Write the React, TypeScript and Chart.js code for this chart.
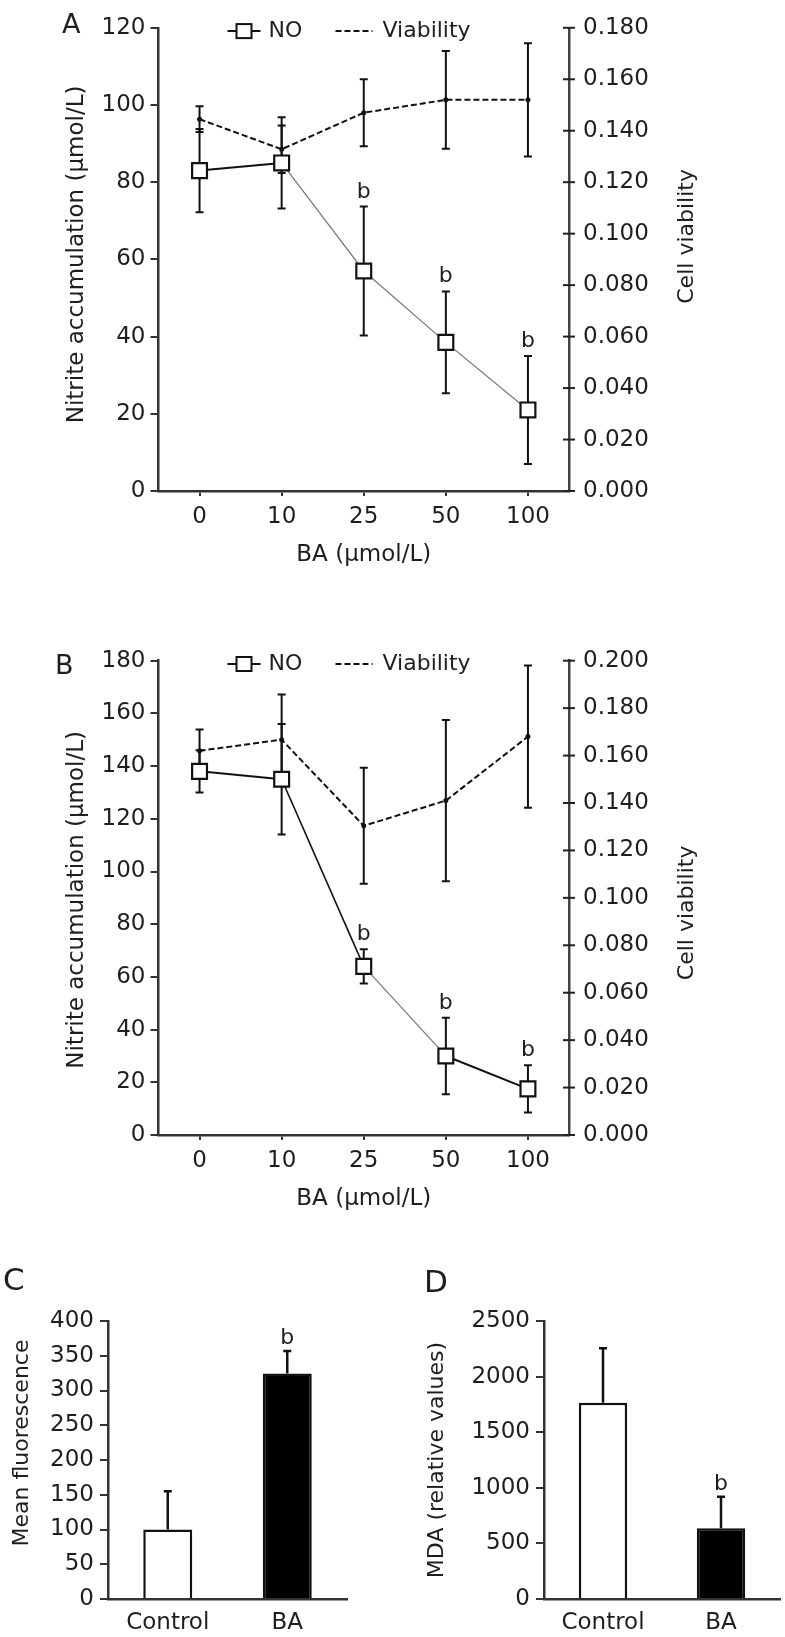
import React, { useEffect, useRef } from 'react';
import { Chart, registerables } from 'chart.js';

Chart.register(...registerables);
Chart.defaults.font.family = '"DejaVu Sans", "Noto Sans", sans-serif';
Chart.defaults.color = '#222';

// ---------- DATA ----------
const doseLabels = ['0', '10', '25', '50', '100'];

const aNO = [83, 85, 57, 38.5, 21];
const aNOErr = [10.8, 11.8, 16.7, 13.2, 14];
const aViab = [0.1445, 0.1328, 0.147, 0.152, 0.152];
const aViabErr = [0.005, 0.0092, 0.013, 0.019, 0.022];
const aSig = ['', '', 'b', 'b', 'b'];

const bNO = [138, 135, 64, 30, 17.5];
const bNOErr = [8, 21, 6.5, 14.5, 9];
const bViab = [0.162, 0.1667, 0.1304, 0.141, 0.168];
const bViabErr = [0.009, 0.019, 0.0245, 0.034, 0.03];
const bSig = ['', '', 'b', 'b', 'b'];

const groupLabels = ['Control', 'BA'];
const cVals = [100, 324.5];
const cErr = [55, 32.5];
const cSig = ['', 'b'];
const dVals = [1765, 636];
const dErr = [489, 284];
const dSig = ['', 'b'];

// segment styles (per segment of the NO line)
const aSegColor = ['#111', '#777', '#777', '#777'];
const aSegWidth = [2, 1.2, 1.2, 1.2];
const bSegColor = ['#111', '#111', '#777', '#111'];
const bSegWidth = [2, 1.6, 1.2, 2];

const FONT = '"DejaVu Sans", "Noto Sans", sans-serif';
const TXT = '#1e1e1e';

// ---------- PLUGINS ----------
const errorBarPlugin = {
  id: 'errorBars',
  beforeDatasetsDraw(chart: any) {
    const { ctx } = chart;
    chart.data.datasets.forEach((ds: any, di: number) => {
      const errs = ds.errors;
      if (!errs) return;
      const meta = chart.getDatasetMeta(di);
      const ys = chart.scales[meta.yAxisID];
      const xs = chart.scales[meta.xAxisID];
      ctx.save();
      ctx.strokeStyle = '#111';
      ctx.lineWidth = ds.errWidth || 2;
      ctx.setLineDash([]);
      ds.data.forEach((v: number, i: number) => {
        const x = xs.getPixelForValue(i);
        const yTop = ys.getPixelForValue(v + errs[i]);
        const yBot = ds.errUpOnly ? ys.getPixelForValue(v) : ys.getPixelForValue(v - errs[i]);
        const cap = ds.errCap || 4;
        ctx.beginPath();
        ctx.moveTo(x, yBot);
        ctx.lineTo(x, yTop);
        ctx.moveTo(x - cap, yTop);
        ctx.lineTo(x + cap, yTop);
        if (!ds.errUpOnly) {
          ctx.moveTo(x - cap, yBot);
          ctx.lineTo(x + cap, yBot);
        }
        ctx.stroke();
      });
      ctx.restore();
    });
  },
  afterDatasetsDraw(chart: any) {
    const { ctx } = chart;
    chart.data.datasets.forEach((ds: any, di: number) => {
      if (!ds.sig) return;
      const meta = chart.getDatasetMeta(di);
      const ys = chart.scales[meta.yAxisID];
      const xs = chart.scales[meta.xAxisID];
      ctx.save();
      ctx.fillStyle = TXT;
      ctx.font = `22px ${FONT}`;
      ctx.textAlign = 'center';
      ctx.textBaseline = 'alphabetic';
      ds.data.forEach((v: number, i: number) => {
        if (!ds.sig[i]) return;
        const x = xs.getPixelForValue(i);
        const y = ys.getPixelForValue(v + (ds.errors ? ds.errors[i] : 0));
        ctx.fillText(ds.sig[i], x, y - (ds.sigGap || 9));
      });
      ctx.restore();
    });
  },
};

const vTitlePlugin = {
  id: 'vTitles',
  afterDraw(chart: any, _args: any, opts: any) {
    const items = (opts && opts.items) || [];
    const { ctx, chartArea } = chart;
    const cy = (chartArea.top + chartArea.bottom) / 2;
    items.forEach((it: any) => {
      ctx.save();
      ctx.translate(it.x, cy + it.dy);
      ctx.rotate(-Math.PI / 2);
      ctx.font = `${it.size}px ${FONT}`;
      ctx.fillStyle = TXT;
      ctx.textAlign = 'center';
      ctx.textBaseline = 'middle';
      ctx.fillText(it.text, 0, 0);
      ctx.restore();
    });
  },
};

const crossTickPlugin = {
  id: 'crossTicks',
  afterDraw(chart: any, _args: any, opts: any) {
    if (!opts || !opts.scaleId) return;
    const s = chart.scales[opts.scaleId];
    const { ctx } = chart;
    ctx.save();
    ctx.strokeStyle = '#222';
    ctx.lineWidth = 2;
    s.ticks.forEach((t: any) => {
      const y = s.getPixelForValue(t.value);
      ctx.beginPath();
      ctx.moveTo(s.left - 6, y);
      ctx.lineTo(s.left + 6, y);
      ctx.stroke();
    });
    ctx.restore();
  },
};

const legendPlugin = {
  id: 'panelLegend',
  afterDraw(chart: any, _args: any, opts: any) {
    if (!opts || !opts.show) return;
    const { ctx, chartArea } = chart;
    const y = chartArea.top + 3.3;
    const x0 = chartArea.left;
    const dsNO = chart.data.datasets[0];
    const dsV = chart.data.datasets[1];
    ctx.save();
    ctx.strokeStyle = '#111';
    ctx.lineWidth = 2;
    ctx.beginPath();
    ctx.moveTo(x0 + 69, y);
    ctx.lineTo(x0 + 102, y);
    ctx.stroke();
    ctx.fillStyle = '#fff';
    ctx.fillRect(x0 + 78, y - 7, 15, 14);
    ctx.strokeRect(x0 + 78, y - 7, 15, 14);
    ctx.font = `22px ${FONT}`;
    ctx.fillStyle = TXT;
    ctx.textAlign = 'left';
    ctx.textBaseline = 'middle';
    ctx.fillText(dsNO.label, x0 + 110, y);
    ctx.setLineDash([6, 3]);
    ctx.beginPath();
    ctx.moveTo(x0 + 177, y);
    ctx.lineTo(x0 + 214, y);
    ctx.stroke();
    ctx.setLineDash([]);
    ctx.fillText(dsV.label, x0 + 224, y);
    ctx.restore();
  },
};

// ---------- CONFIG BUILDERS ----------
function lineConfig(p: {
  no: number[]; noErr: number[]; viab: number[]; viabErr: number[]; sig: string[];
  segColor: string[]; segWidth: number[]; yMax: number; y1Max: number;
  padTop: number; padBottom: number; leftDy: number; rightDy: number;
}) {
  return {
    type: 'line',
    data: {
      labels: doseLabels,
      datasets: [
        {
          label: 'NO',
          data: p.no,
          errors: p.noErr,
          sig: p.sig,
          sigGap: 9,
          errWidth: 2,
          errCap: 4,
          yAxisID: 'y',
          borderColor: '#111',
          borderWidth: 2,
          tension: 0,
          pointStyle: 'rect',
          pointRadius: 10.5,
          pointBorderWidth: 2.2,
          pointBackgroundColor: '#fff',
          pointBorderColor: '#111',
          segment: {
            borderColor: (c: any) => p.segColor[c.p0DataIndex],
            borderWidth: (c: any) => p.segWidth[c.p0DataIndex],
          },
        },
        {
          label: 'Viability',
          data: p.viab,
          errors: p.viabErr,
          errWidth: 2,
          errCap: 4,
          yAxisID: 'y1',
          borderColor: '#111',
          borderWidth: 2,
          borderDash: [6, 3],
          tension: 0,
          pointStyle: 'circle',
          pointRadius: 2.5,
          pointBorderWidth: 0,
          pointBackgroundColor: '#111',
        },
      ],
    },
    options: {
      responsive: false,
      animation: false,
      events: [],
      layout: { padding: { left: 0, right: 0, top: p.padTop, bottom: p.padBottom } },
      plugins: {
        legend: { display: false },
        tooltip: { enabled: false },
        panelLegend: { show: true },
        crossTicks: { scaleId: 'y1' },
        vTitles: {
          items: [
            { text: 'Nitrite accumulation (μmol/L)', x: 77, dy: p.leftDy, size: 23 },
            { text: 'Cell viability', x: 687, dy: p.rightDy, size: 22 },
          ],
        },
      },
      scales: {
        x: {
          type: 'category',
          offset: true,
          grid: { display: true, drawOnChartArea: false, drawTicks: true, tickLength: 5, color: '#333', lineWidth: 2, offset: false },
          border: { display: true, color: '#333', width: 2.5 },
          ticks: { font: { size: 23 }, padding: 7, color: TXT },
          title: { display: true, text: 'BA (μmol/L)', font: { size: 23 }, padding: 0, color: TXT },
          afterFit: (s: any) => { s.height = 78; },
        },
        y: {
          position: 'left',
          min: 0,
          max: p.yMax,
          grid: { display: true, drawOnChartArea: false, drawTicks: true, tickLength: 8, color: '#333', lineWidth: 2 },
          border: { display: true, color: '#333', width: 2.5 },
          ticks: { stepSize: 20, font: { size: 23 }, padding: 5, color: TXT },
          afterFit: (s: any) => { s.width = 158.5; },
        },
        y1: {
          position: 'right',
          min: 0,
          max: p.y1Max,
          grid: { display: true, drawOnChartArea: false, drawTicks: false },
          border: { display: true, color: '#444', width: 2.5 },
          ticks: {
            stepSize: 0.02,
            font: { size: 23 },
            padding: 14,
            color: TXT,
            callback: (v: any) => Number(v).toFixed(3),
          },
          afterFit: (s: any) => { s.width = 216; },
        },
      },
    },
    plugins: [errorBarPlugin, legendPlugin, crossTickPlugin, vTitlePlugin],
  };
}

function barConfig(p: {
  vals: number[]; errs: number[]; sig: string[]; yMax: number; step: number;
  yWidth: number; padRight: number; title: string; titleX: number; titleDy: number;
}) {
  return {
    type: 'bar',
    data: {
      labels: groupLabels,
      datasets: [
        {
          label: 'value',
          data: p.vals,
          errors: p.errs,
          errUpOnly: true,
          errWidth: 2.5,
          errCap: 4,
          sig: p.sig,
          sigGap: 7,
          backgroundColor: ['#ffffff', '#000000'],
          borderColor: '#111',
          borderWidth: 2.5,
          barPercentage: 0.41,
          categoryPercentage: 1,
        },
      ],
    },
    options: {
      responsive: false,
      animation: false,
      events: [],
      layout: { padding: { left: 0, right: p.padRight, top: 81, bottom: 0 } },
      plugins: {
        legend: { display: false },
        tooltip: { enabled: false },
        vTitles: { items: [{ text: p.title, x: p.titleX, dy: p.titleDy, size: 22 }] },
      },
      scales: {
        x: {
          type: 'category',
          grid: { display: true, drawOnChartArea: false, drawTicks: false },
          border: { display: true, color: '#333', width: 2.5 },
          ticks: { font: { size: 23 }, padding: 10, color: TXT },
          afterFit: (s: any) => { s.height = 38; },
        },
        y: {
          min: 0,
          max: p.yMax,
          grid: { display: true, drawOnChartArea: false, drawTicks: true, tickLength: 8, color: '#333', lineWidth: 2 },
          border: { display: true, color: '#333', width: 2.5 },
          ticks: { stepSize: p.step, font: { size: 23 }, padding: 6, color: TXT, callback: (v: any) => String(v) },
          afterFit: (s: any) => { s.width = p.yWidth; },
        },
      },
    },
    plugins: [errorBarPlugin, vTitlePlugin],
  };
}

// ---------- COMPONENTS ----------
function ChartCanvas(props: { make: () => any; left: number; top: number; width: number; height: number }) {
  const ref = useRef<HTMLCanvasElement | null>(null);
  useEffect(() => {
    const chart = new Chart(ref.current as HTMLCanvasElement, props.make() as any);
    return () => chart.destroy();
  }, []);
  return (
    <canvas
      ref={ref}
      width={props.width}
      height={props.height}
      style={{ position: 'absolute', left: props.left, top: props.top, width: props.width, height: props.height }}
    />
  );
}

function Letter(props: { text: string; left: number; top: number; size: number }) {
  return (
    <div
      style={{
        position: 'absolute',
        left: props.left,
        top: props.top,
        fontFamily: FONT,
        fontSize: props.size,
        lineHeight: 1,
        color: TXT,
      }}
    >
      {props.text}
    </div>
  );
}

export default function App() {
  return (
    <div style={{ position: 'absolute', left: 0, top: 0, width: 785, height: 1637, background: '#fff', overflow: 'hidden' }}>
      <ChartCanvas
        left={0}
        top={0}
        width={785}
        height={600}
        make={() =>
          lineConfig({
            no: aNO, noErr: aNOErr, viab: aViab, viabErr: aViabErr, sig: aSig,
            segColor: aSegColor, segWidth: aSegWidth, yMax: 120, y1Max: 0.18,
            padTop: 15, padBottom: 31, leftDy: -5, rightDy: -23,
          })
        }
      />
      <ChartCanvas
        left={0}
        top={600}
        width={785}
        height={640}
        make={() =>
          lineConfig({
            no: bNO, noErr: bNOErr, viab: bViab, viabErr: bViabErr, sig: bSig,
            segColor: bSegColor, segWidth: bSegWidth, yMax: 180, y1Max: 0.2,
            padTop: 60.7, padBottom: 27, leftDy: 2, rightDy: 15,
          })
        }
      />
      <ChartCanvas
        left={0}
        top={1240}
        width={400}
        height={397}
        make={() =>
          barConfig({
            vals: cVals, errs: cErr, sig: cSig, yMax: 400, step: 50,
            yWidth: 108, padRight: 53, title: 'Mean fluorescence', titleX: 22, titleDy: -17,
          })
        }
      />
      <ChartCanvas
        left={400}
        top={1240}
        width={385}
        height={397}
        make={() =>
          barConfig({
            vals: dVals, errs: dErr, sig: dSig, yMax: 2500, step: 500,
            yWidth: 144, padRight: 5, title: 'MDA (relative values)', titleX: 37, titleDy: 0,
          })
        }
      />
      <Letter text="A" left={62} top={10} size={27} />
      <Letter text="B" left={55} top={651} size={27} />
      <Letter text="C" left={3} top={1264} size={31} />
      <Letter text="D" left={424} top={1266} size={31} />
    </div>
  );
}
